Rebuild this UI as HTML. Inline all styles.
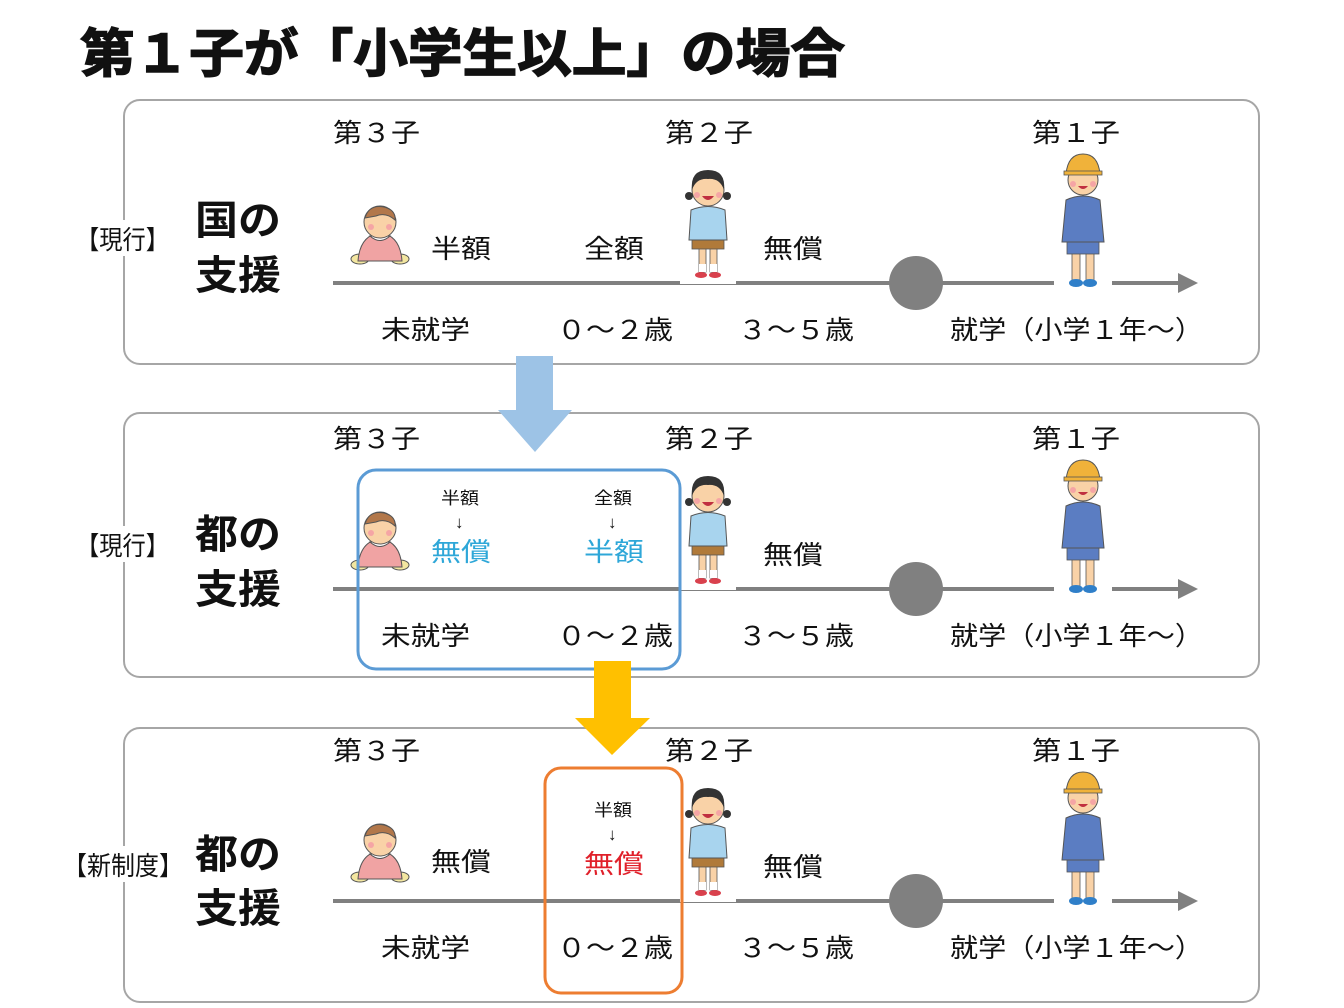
<!DOCTYPE html>
<html><head><meta charset="utf-8"><style>
html,body{margin:0;padding:0;background:#fff;}
svg{display:block;}
text{font-family:"Liberation Sans","Noto Sans CJK JP",sans-serif;fill:#111;}
.b{font-weight:bold;}
</style></head><body>
<svg width="1344" height="1008" viewBox="0 0 1344 1008" xmlns="http://www.w3.org/2000/svg">
<defs>
<g id="baby">
  <ellipse cx="10" cy="56" rx="9" ry="5" fill="#f3e6a0" stroke="#555" stroke-width="1"/>
  <ellipse cx="50" cy="56" rx="9" ry="5" fill="#f3e6a0" stroke="#555" stroke-width="1"/>
  <path d="M8 58 Q10 32 30 30 Q50 32 52 58 Z" fill="#f0a3a3" stroke="#555" stroke-width="1"/>
  <path d="M20 33 Q30 42 40 33 Z" fill="#fff" stroke="#555" stroke-width="1"/>
  <circle cx="30" cy="19" r="16" fill="#f9d2a7" stroke="#555" stroke-width="1"/>
  <path d="M15 15 Q19 1 34 4 Q46 7 45 17 Q36 9 26 13 Z" fill="#b2774a" stroke="#555" stroke-width="1"/>
  <circle cx="21" cy="24" r="3" fill="#f5a5a5"/><circle cx="39" cy="24" r="3" fill="#f5a5a5"/>
</g>
<g id="girl">
  <rect x="-2" y="0" width="56" height="124" fill="#fff"/>
  <rect x="17" y="88" width="7" height="24" fill="#f9d2a7" stroke="#555" stroke-width="0.8"/>
  <rect x="28" y="88" width="7" height="24" fill="#f9d2a7" stroke="#555" stroke-width="0.8"/>
  <rect x="17" y="104" width="7" height="8" fill="#fff"/><rect x="28" y="104" width="7" height="8" fill="#fff"/>
  <ellipse cx="19" cy="115" rx="6" ry="3" fill="#d9414d"/><ellipse cx="33" cy="115" rx="6" ry="3" fill="#d9414d"/>
  <rect x="10" y="78" width="32" height="11" fill="#b07a3a" stroke="#555" stroke-width="0.8"/>
  <path d="M7 80 L9 50 Q26 43 43 50 L45 80 Z" fill="#a8d4ee" stroke="#555" stroke-width="1"/>
  <circle cx="26" cy="30" r="16" fill="#f9d2a7" stroke="#555" stroke-width="1"/>
  <path d="M10 30 Q8 10 26 10 Q44 10 42 30 Q38 18 26 19 Q14 18 10 30 Z" fill="#333"/>
  <circle cx="7" cy="36" r="4" fill="#333"/><circle cx="45" cy="36" r="4" fill="#333"/>
  <circle cx="15" cy="35" r="3" fill="#f5a5a5"/><circle cx="37" cy="35" r="3" fill="#f5a5a5"/>
  <path d="M20 36 Q26 44 32 36 Z" fill="#c03040"/>
</g>
<g id="boy">
  <rect x="-4" y="0" width="58" height="138" fill="#fff"/>
  <rect x="14" y="100" width="8" height="28" fill="#f9d2a7" stroke="#555" stroke-width="0.8"/>
  <rect x="28" y="100" width="8" height="28" fill="#f9d2a7" stroke="#555" stroke-width="0.8"/>
  <ellipse cx="18" cy="131" rx="7" ry="4" fill="#2f7fc9"/><ellipse cx="32" cy="131" rx="7" ry="4" fill="#2f7fc9"/>
  <rect x="9" y="88" width="32" height="14" fill="#5b7dc2" stroke="#555" stroke-width="0.8"/>
  <path d="M4 90 L8 48 Q25 40 42 48 L46 90 Z" fill="#5b7dc2" stroke="#555" stroke-width="1"/>
  <circle cx="25" cy="28" r="15" fill="#f9d2a7" stroke="#555" stroke-width="1"/>
  <path d="M8 22 Q10 2 25 2 Q40 2 42 22 Z" fill="#f0b23a" stroke="#555" stroke-width="1"/>
  <rect x="6" y="19" width="38" height="4" fill="#f0b23a" stroke="#555" stroke-width="0.8"/>
  <circle cx="15" cy="32" r="3" fill="#f5a5a5"/><circle cx="35" cy="32" r="3" fill="#f5a5a5"/>
  <path d="M20 34 Q25 40 30 34 Z" fill="#c03040"/>
</g>
<g id="panel">
  <text x="333" y="142" font-size="26" textLength="87" lengthAdjust="spacingAndGlyphs">第３子</text>
  <text x="665" y="142" font-size="26" textLength="88" lengthAdjust="spacingAndGlyphs">第２子</text>
  <text x="1032" y="142" font-size="26" textLength="88" lengthAdjust="spacingAndGlyphs">第１子</text>
  <line x1="333" y1="283" x2="1180" y2="283" stroke="#808080" stroke-width="4"/>
  <polygon points="1178,273 1198,283 1178,293" fill="#808080"/>
  <circle cx="916" cy="283" r="27" fill="#808080"/>
  <text x="381" y="339" font-size="26" textLength="89" lengthAdjust="spacingAndGlyphs">未就学</text>
  <text x="557" y="339" font-size="26" textLength="116" lengthAdjust="spacingAndGlyphs">０～２歳</text>
  <text x="738" y="339" font-size="26" textLength="116" lengthAdjust="spacingAndGlyphs">３～５歳</text>
  <text x="950" y="339" font-size="26" textLength="253" lengthAdjust="spacingAndGlyphs">就学（小学１年～）</text>
  <use href="#baby" x="350" y="203"/>
  <text x="763" y="258" font-size="26" textLength="60" lengthAdjust="spacingAndGlyphs">無償</text>
  <use href="#girl" x="682" y="160"/>
  <use href="#boy" x="1058" y="152"/>
</g>
</defs>

<text x="80" y="72" font-size="52" class="b" stroke="#111" stroke-width="1.5" textLength="765" lengthAdjust="spacingAndGlyphs">第１子が「小学生以上」の場合</text>

<!-- panel 1 -->
<rect x="124" y="100" width="1135" height="264" rx="16" fill="#fff" stroke="#a6a6a6" stroke-width="2"/>
<use href="#panel"/>
<rect x="74" y="220" width="96" height="36" fill="#fff"/>
<text x="76" y="249" font-size="26" textLength="93" lengthAdjust="spacingAndGlyphs">【現行】</text>
<text x="195" y="234" font-size="40" class="b" textLength="86" lengthAdjust="spacingAndGlyphs">国の</text>
<text x="195" y="289" font-size="40" class="b" textLength="86" lengthAdjust="spacingAndGlyphs">支援</text>
<text x="431" y="258" font-size="26" textLength="60" lengthAdjust="spacingAndGlyphs">半額</text>
<text x="584" y="258" font-size="26" textLength="60" lengthAdjust="spacingAndGlyphs">全額</text>

<!-- panel 2 -->
<rect x="124" y="413" width="1135" height="264" rx="16" fill="#fff" stroke="#a6a6a6" stroke-width="2"/>
<use href="#panel" y="306"/>
<rect x="74" y="526" width="96" height="36" fill="#fff"/>
<text x="76" y="555" font-size="26" textLength="93" lengthAdjust="spacingAndGlyphs">【現行】</text>
<text x="195" y="548" font-size="40" class="b" textLength="86" lengthAdjust="spacingAndGlyphs">都の</text>
<text x="195" y="603" font-size="40" class="b" textLength="86" lengthAdjust="spacingAndGlyphs">支援</text>
<text x="441" y="504" font-size="17" textLength="38" lengthAdjust="spacingAndGlyphs">半額</text>
<text x="455" y="528" font-size="17">↓</text>
<text x="431" y="561" font-size="26" style="fill:#2ea7d8" textLength="60" lengthAdjust="spacingAndGlyphs">無償</text>
<text x="594" y="504" font-size="17" textLength="38" lengthAdjust="spacingAndGlyphs">全額</text>
<text x="608" y="528" font-size="17">↓</text>
<text x="584" y="561" font-size="26" style="fill:#2ea7d8" textLength="60" lengthAdjust="spacingAndGlyphs">半額</text>
<rect x="358" y="470" width="322" height="199" rx="18" fill="none" stroke="#5b9bd5" stroke-width="3"/>

<!-- blue arrow -->
<polygon points="516,356 553,356 553,410 572,410 535,452 498,410 516,410" fill="#9dc3e6"/>

<!-- panel 3 -->
<rect x="124" y="728" width="1135" height="274" rx="16" fill="#fff" stroke="#a6a6a6" stroke-width="2"/>
<use href="#panel" y="618"/>
<rect x="62" y="846" width="122" height="36" fill="#fff"/>
<text x="63" y="875" font-size="26" textLength="120" lengthAdjust="spacingAndGlyphs">【新制度】</text>
<text x="195" y="868" font-size="40" class="b" textLength="86" lengthAdjust="spacingAndGlyphs">都の</text>
<text x="195" y="922" font-size="40" class="b" textLength="86" lengthAdjust="spacingAndGlyphs">支援</text>
<text x="431" y="871" font-size="26" textLength="60" lengthAdjust="spacingAndGlyphs">無償</text>
<text x="594" y="816" font-size="17" textLength="38" lengthAdjust="spacingAndGlyphs">半額</text>
<text x="608" y="840" font-size="17">↓</text>
<text x="584" y="873" font-size="26" style="fill:#e0202a" textLength="60" lengthAdjust="spacingAndGlyphs">無償</text>
<rect x="545" y="768" width="137" height="225" rx="16" fill="none" stroke="#ed7d31" stroke-width="3"/>

<!-- yellow arrow -->
<polygon points="594,661 631,661 631,718 650,718 612,755 575,718 594,718" fill="#ffc000"/>
</svg>
</body></html>
